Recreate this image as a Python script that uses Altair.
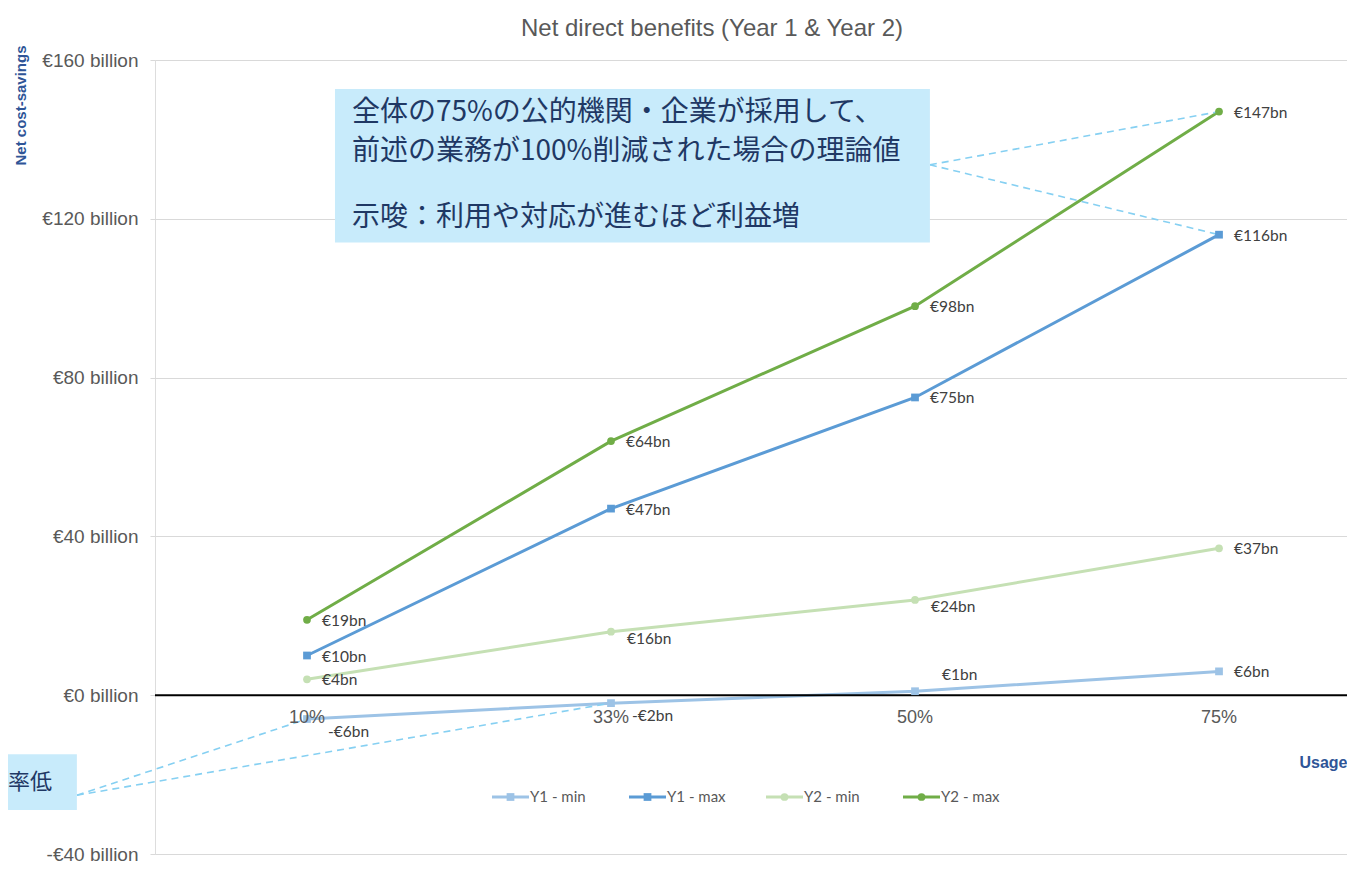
import altair as alt
import pandas as pd

# ---------------- data ----------------
usage = ["10%", "33%", "50%", "75%"]
series = ["Y1 - min", "Y1 - max", "Y2 - min", "Y2 - max"]
y1_min = [-6, -2, 1, 6]
y1_max = [10, 47, 75, 116]
y2_min = [4, 16, 24, 37]
y2_max = [19, 64, 98, 147]
colors = ["#9dc3e6", "#5b9bd5", "#c5e0b4", "#70ad47"]
shapes = ["square", "square", "circle", "circle"]
y_ticks = [-40, 0, 40, 80, 120, 160]

note_top = ["全体の75%の公的機関・企業が採用して、",
            "前述の業務が100%削減された場合の理論値"]
note_top2 = "示唆：利用や対応が進むほど利益増"
note_left = "率低"

# annotation anchors (data coordinates: usage index, € billion)
box_top = {"x": 0.092, "x2": 2.049, "y": 152.7, "y2": 114.0}
box_left = {"x": -1.1, "x2": -0.757, "y": -14.9, "y2": -28.9}

# ---------------- tables ----------------
values = [y1_min, y1_max, y2_min, y2_max]
rows = []
for s, vals in zip(series, values):
    for i, (u, v) in enumerate(zip(usage, vals)):
        lab = ("-" if v < 0 else "") + "€" + str(abs(v)) + "bn"
        rows.append({"series": s, "usage": u, "idx": i, "value": v, "label": lab})
df = pd.DataFrame(rows)

color = alt.Color("series:N", scale=alt.Scale(domain=series, range=colors), legend=None)
shape = alt.Shape("series:N", scale=alt.Scale(domain=series, range=shapes), legend=None)
size = alt.Size("series:N", scale=alt.Scale(domain=series, range=[60, 60, 40, 40]), legend=None)

LBL_FONT = "Lato"
AX_FONT = "Liberation Sans"
CJK = "Noto Sans CJK JP"

xenc = alt.X("idx:Q",
             scale=alt.Scale(domain=[-0.5, 3.421], nice=False, zero=False),
             axis=alt.Axis(labels=False, ticks=False, domain=False, grid=False,
                           title="Usage", titleAnchor="end", titleX=1192, titleY=-92,
                           titleAlign="right", titleBaseline="middle",
                           titleFont=AX_FONT, titleFontSize=16, titleFontWeight="bold",
                           titleColor="#2f5597"))
yenc = alt.Y("value:Q",
             scale=alt.Scale(domain=[-40, 160], nice=False, zero=False),
             axis=alt.Axis(values=y_ticks, grid=True, gridColor="#d9d9d9", gridWidth=1,
                           domain=False, ticks=True, tickColor="#d9d9d9", tickSize=5,
                           labelPadding=12, labelFont=AX_FONT, labelFontSize=19,
                           labelColor="#595959",
                           labelExpr="(datum.value < 0 ? '-' : '') + '€' + abs(datum.value) + ' billion'",
                           title="Net cost-savings", titleAngle=-90, titleX=-135, titleY=-15,
                           titleAlign="right", titleBaseline="middle",
                           titleFont=AX_FONT, titleFontSize=15, titleFontWeight="bold",
                           titleColor="#2f5597"))

base = alt.Chart(df)

zero_line = alt.Chart(pd.DataFrame({"value": [0]})).mark_rule(
    color="#000000", strokeWidth=2).encode(y=alt.Y("value:Q"))

lines = base.mark_line(strokeWidth=3).encode(x=xenc, y=yenc, color=color, detail="series:N")
points = base.mark_point(filled=True, opacity=1).encode(
    x="idx:Q", y="value:Q", color=color, shape=shape, size=size)

lab_kw = dict(align="left", baseline="middle", font=LBL_FONT, fontSize=15.5, color="#404040")
labels_main = base.mark_text(dx=15, dy=1, **lab_kw).encode(
    x="idx:Q", y="value:Q", text="label:N"
).transform_filter(
    "(datum.series == 'Y1 - max' || datum.series == 'Y2 - max') || "
    "(datum.series == 'Y2 - min' && (datum.idx == 0 || datum.idx == 3)) || "
    "(datum.series == 'Y1 - min' && datum.idx == 3)")
labels_y2min = base.mark_text(dx=16, dy=7, **lab_kw).encode(
    x="idx:Q", y="value:Q", text="label:N"
).transform_filter("datum.series == 'Y2 - min' && (datum.idx == 1 || datum.idx == 2)")
labels_y1min_low = base.mark_text(dx=21, dy=13, **lab_kw).encode(
    x="idx:Q", y="value:Q", text="label:N"
).transform_filter("datum.series == 'Y1 - min' && datum.idx < 2")
labels_y1min_up = base.mark_text(dx=27, dy=-16, **lab_kw).encode(
    x="idx:Q", y="value:Q", text="label:N"
).transform_filter("datum.series == 'Y1 - min' && datum.idx == 2")

# x category labels placed along the zero line
xcat = alt.Chart(pd.DataFrame({"idx": list(range(len(usage))), "usage": usage})).mark_text(
    dy=23, baseline="middle", align="center", font=AX_FONT, fontSize=18, color="#595959"
).encode(x="idx:Q", y=alt.datum(0), text="usage:N")

# annotation boxes
box_df = pd.DataFrame([box_top, box_left])
boxes = alt.Chart(box_df).mark_rect(color="#c8ebfb").encode(
    x="x:Q", x2="x2:Q", y="y:Q", y2="y2:Q")

cjk_kw = dict(align="left", baseline="middle", font=CJK, fontSize=28, color="#1f3864")
note_text = alt.Chart(pd.DataFrame({"t": [note_top]})).mark_text(
    lineHeight=39, **cjk_kw
).encode(x=alt.datum(0.148), y=alt.datum(146.6), text="t")
note_text2 = alt.Chart(pd.DataFrame({"t": [note_top2]})).mark_text(**cjk_kw).encode(
    x=alt.datum(0.148), y=alt.datum(120.2), text="t:N")
note_left_text = alt.Chart(pd.DataFrame({"t": [note_left]})).mark_text(
    align="right", baseline="middle", font=CJK, fontSize=22, color="#1f3864"
).encode(x=alt.datum(-0.839), y=alt.datum(-21.9), text="t:N")

# dashed leader lines from boxes to points
lead_df = pd.DataFrame({
    "x": [2.049, 2.049, -0.757, -0.757],
    "y": [133.6, 133.6, -25.2, -25.2],
    "x2": [3, 3, 0, 1],
    "y2": [y2_max[3], y1_max[3], y1_min[0], y1_min[1]],
})
leaders = alt.Chart(lead_df).mark_rule(
    color="#86d0f2", strokeWidth=1.6, strokeDash=[7, 5]).encode(
    x="x:Q", y="y:Q", x2="x2:Q", y2="y2:Q")

# legend (drawn below plot, pixel placement)
leg = alt.Chart(pd.DataFrame({"series": series})).transform_calculate(
    k="indexof(['Y1 - min','Y1 - max','Y2 - min','Y2 - max'], datum.series)"
).transform_calculate(
    lx="337 + 137 * datum.k", lx2="374 + 137 * datum.k",
    mx="355.5 + 137 * datum.k", tx="375 + 137 * datum.k")
leg_line = leg.mark_rule(strokeWidth=3).encode(
    x=alt.X("lx:Q", scale=None), x2="lx2:Q", y=alt.value(737), color=color)
leg_pt = leg.mark_point(filled=True, opacity=1).encode(
    x=alt.X("mx:Q", scale=None), y=alt.value(737), color=color, shape=shape, size=size)
leg_txt = leg.mark_text(align="left", baseline="middle", font=LBL_FONT, fontSize=15,
                        color="#595959").encode(
    x=alt.X("tx:Q", scale=None), y=alt.value(737), text="series:N")

chart = alt.layer(
    lines, zero_line, leaders, boxes, note_text, note_text2, note_left_text, points,
    labels_main, labels_y2min, labels_y1min_low, labels_y1min_up, xcat,
    leg_line, leg_pt, leg_txt
).properties(
    width=1192, height=794,
    autosize=alt.AutoSizeParams(type="none"),
    padding={"left": 147, "top": 52, "right": 0, "bottom": 10},
    title=alt.Title("Net direct benefits (Year 1 & Year 2)", font=AX_FONT, fontSize=24,
                    fontWeight="normal", color="#595959", anchor="middle", dx=-39, offset=4),
).configure_view(stroke=None).configure(background="#ffffff")

chart.save("out.html", embed_options={"renderer": "svg", "actions": False})
